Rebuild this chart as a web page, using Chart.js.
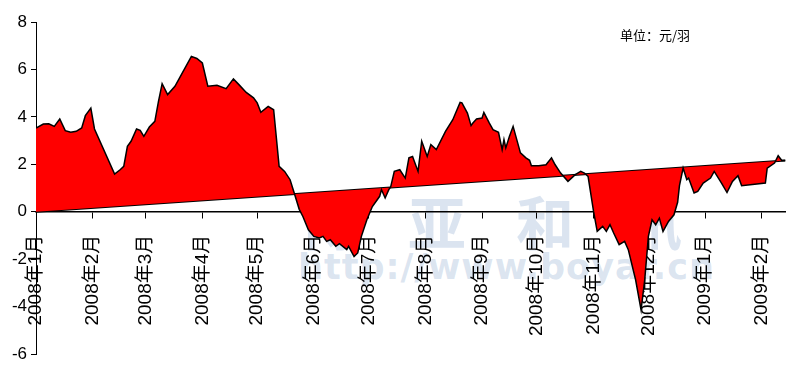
<!DOCTYPE html>
<html>
<head>
<meta charset="utf-8">
<script src="https://cdn.jsdelivr.net/npm/chart.js@4.4.1/dist/chart.umd.min.js"></script>
<style>
  html, body { margin: 0; padding: 0; background: #fff; }
  #wrap { position: relative; width: 802px; height: 366px; overflow: hidden; }
  #wrap canvas { position: relative; z-index: 1; }
  .mark { position: absolute; z-index: 0; color: rgba(176, 196, 222, 0.45); font-family: "Noto Sans CJK SC", sans-serif; font-weight: bold; white-space: nowrap; }
  #mark1 { left: 300px; top: 178px; font-size: 58px; letter-spacing: 50px; }
  #mark2 { left: 298px; top: 247px; font-family: "DejaVu Sans", sans-serif; font-size: 35px; letter-spacing: 1px; }
  #unit { position: absolute; z-index: 2; left: 620px; top: 25px; font-family: "Noto Sans CJK SC", sans-serif; font-size: 13px; color: #000; }
</style>
</head>
<body>
<div id="wrap">
  <div class="mark" id="mark1">博亚和讯</div>
  <div class="mark" id="mark2">http://www.boyar.cn</div>
  <div id="unit">单位：元/羽</div>
  <canvas id="grafico"></canvas>
</div>
<script>
// dias contados a partir de 2008-01-01
var dias = [0, 4, 7, 10, 13, 16, 19, 22, 25, 27, 30, 32, 43, 46, 48, 50, 52, 55, 57, 59,
  62, 65, 67, 69, 72, 76, 79, 85, 88, 91, 94, 99, 104, 108, 111, 115, 119, 121, 123, 127,
  130, 133, 136, 139, 141, 144, 146, 149, 152, 155, 157, 159, 161, 164, 166, 170, 171, 174, 176, 178,
  181, 184, 188, 189, 191, 193, 194, 196, 199, 202, 204, 206, 207, 209, 211, 214, 216, 219, 224, 228,
  232, 233, 236, 238, 239, 241, 244, 245, 248, 250, 253, 255, 256, 257, 259, 261, 263, 265, 268, 270,
  271, 275, 279, 282, 284, 287, 291, 295, 298, 300, 302, 305, 307, 310, 312, 314, 316, 319, 322, 324,
  328, 331, 333, 335, 337, 339, 341, 343, 346, 349, 351, 352, 354, 356, 357, 360, 362, 365, 369, 371,
  375, 378, 381, 384, 386, 399, 400, 404, 406, 408, 410];

var valores = [3.53, 3.70, 3.71, 3.60, 3.91, 3.42, 3.35, 3.39, 3.53, 4.05, 4.37, 3.49, 1.59, 1.77, 1.91, 2.76, 2.97, 3.49, 3.43, 3.18,
  3.57, 3.81, 4.65, 5.40, 4.94, 5.29, 5.71, 6.55, 6.46, 6.27, 5.29, 5.33, 5.19, 5.60, 5.36, 5.03, 4.80, 4.59, 4.19, 4.44,
  4.30, 1.91, 1.70, 1.35, 0.85, 0.10, -0.20, -0.76, -1.04, -1.11, -1.04, -1.25, -1.18, -1.46, -1.35, -1.60, -1.46, -1.89, -1.74, -1.04,
  -0.34, 0.22, 0.65, 0.93, 0.58, 0.93, 1.04, 1.70, 1.77, 1.42, 2.27, 2.33, 2.12, 1.70, 2.97, 2.33, 2.83, 2.62, 3.39, 3.88,
  4.61, 4.59, 4.16, 3.63, 3.74, 3.91, 3.95, 4.19, 3.74, 3.46, 3.35, 2.62, 3.04, 2.69, 3.18, 3.60, 3.04, 2.48, 2.27, 2.17,
  1.94, 1.94, 1.98, 2.27, 1.98, 1.63, 1.28, 1.56, 1.70, 1.63, 1.49, 0.01, -0.83, -0.62, -0.83, -0.55, -0.90, -1.39, -1.25, -1.60,
  -2.87, -4.14, -2.87, -1.04, -0.34, -0.55, -0.27, -0.83, -0.41, -0.13, 0.40, 1.10, 1.84, 1.35, 1.42, 0.79, 0.86, 1.21, 1.42, 1.70,
  1.21, 0.81, 1.28, 1.52, 1.10, 1.21, 1.84, 2.05, 2.36, 2.16, 2.16];

// linha de tendencia (dois extremos)
var tendDias = [0, 410];
var tendValores = [0, 2.16];

var mesDias = [0, 31, 60, 91, 121, 152, 182, 213, 244, 274, 305, 335, 366, 397];
var mesLabels = ['2008年1月', '2008年2月', '2008年3月', '2008年4月', '2008年5月', '2008年6月', '2008年7月',
  '2008年8月', '2008年9月', '2008年10月', '2008年11月', '2008年12月', '2009年1月', '2009年2月'];

var yTicks = [-6, -4, -2, 0, 2, 4, 6, 8];

var fonteY = { family: "'Liberation Sans', Arial, sans-serif", size: 17 };
var fonteX = { family: "'Liberation Sans', Arial, 'Noto Sans CJK SC', sans-serif", size: 19 };

var ctx = document.getElementById('grafico').getContext('2d');
window.meuGrafico = new Chart(ctx, {
  type: 'line',
  data: {
    datasets: [{
      label: 'preco',
      data: dias.map(function (d, i) { return { x: d, y: valores[i] }; }),
      borderColor: '#000',
      borderWidth: 1.5,
      backgroundColor: '#ff0000',
      fill: 1,
      pointRadius: 0,
      tension: 0
    }, {
      label: 'tendencia',
      data: tendDias.map(function (d, i) { return { x: d, y: tendValores[i] }; }),
      borderColor: '#000',
      borderWidth: 2,
      fill: false,
      pointRadius: 0
    }]
  },
  options: {
    responsive: true,
    maintainAspectRatio: false,
    animation: false,
    layout: { padding: { top: 22, right: 15, bottom: 12, left: 0 } },
    plugins: {
      legend: { display: false },
      tooltip: { enabled: false }
    },
    scales: {
      x: {
        type: 'linear',
        position: { y: 0 },
        min: 0,
        max: 410,
        z: 1,
        afterFit: function (s) { s.height = 0; },
        afterBuildTicks: function (s) {
          s.ticks = mesDias.map(function (v) { return { value: v }; });
        },
        border: { color: '#000', width: 1.5 },
        grid: { drawOnChartArea: false, drawTicks: true, tickLength: 6, color: '#000' },
        ticks: {
          autoSkip: false,
          minRotation: 90,
          maxRotation: 90,
          padding: 17,
          color: '#000',
          font: fonteX,
          callback: function (v, i) { return mesLabels[i]; }
        }
      },
      y: {
        min: -6,
        max: 8,
        afterFit: function (s) { s.width = 36; s.paddingTop = 0; s.paddingBottom = 0; },
        afterBuildTicks: function (s) {
          s.ticks = yTicks.map(function (v) { return { value: v }; });
        },
        border: { color: '#000', width: 1 },
        grid: { drawOnChartArea: false, drawTicks: true, tickLength: 5, color: '#000' },
        ticks: { color: '#000', font: fonteY, padding: 4 }
      }
    }
  }
});
</script>
</body>
</html>
